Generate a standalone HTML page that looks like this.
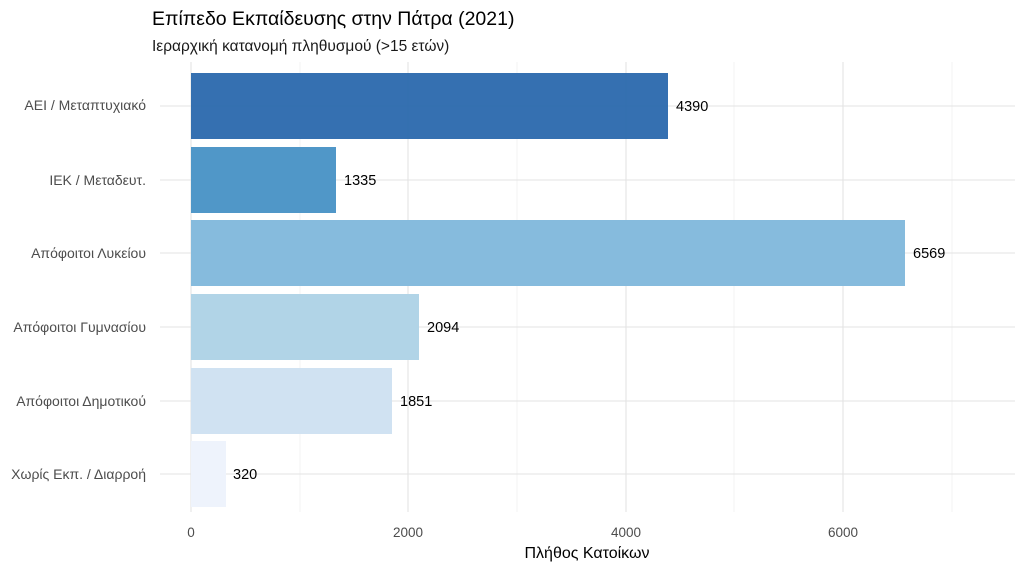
<!DOCTYPE html>
<html><head><meta charset="utf-8"><style>
body{margin:0;background:#fff;}
svg text{font-family:"Liberation Sans","DejaVu Sans",sans-serif;}
</style></head><body>
<svg width="1024" height="569" xmlns="http://www.w3.org/2000/svg">
<rect width="1024" height="569" fill="#fff"/>
<text x="152" y="25" font-size="19.5" fill="#000">Επίπεδο Εκπαίδευσης στην Πάτρα (2021)</text>
<text x="152" y="51" font-size="15.5" fill="#1a1a1a">Ιεραρχική κατανομή πληθυσμού (&gt;15 ετών)</text>
<g stroke="#ebebeb" stroke-width="0.6">
<line x1="300" y1="62" x2="300" y2="512"/><line x1="517" y1="62" x2="517" y2="512"/>
<line x1="734" y1="62" x2="734" y2="512"/><line x1="952" y1="62" x2="952" y2="512"/>
</g>
<g stroke="#e3e3e3" stroke-width="1.1">
<line x1="191" y1="62" x2="191" y2="512"/><line x1="408" y1="62" x2="408" y2="512"/>
<line x1="626" y1="62" x2="626" y2="512"/><line x1="843" y1="62" x2="843" y2="512"/>
<line x1="160" y1="106" x2="1015" y2="106"/><line x1="160" y1="180" x2="1015" y2="180"/>
<line x1="160" y1="253" x2="1015" y2="253"/><line x1="160" y1="327" x2="1015" y2="327"/>
<line x1="160" y1="401" x2="1015" y2="401"/><line x1="160" y1="474" x2="1015" y2="474"/>
</g>
<rect x="191" y="73" width="477" height="66" fill="#2a68ad" fill-opacity="0.95"/>
<rect x="191" y="147" width="145" height="66" fill="#5097c8"/>
<rect x="191" y="220" width="714" height="66" fill="#86bbdd"/>
<rect x="191" y="294" width="228" height="66" fill="#b1d4e7"/>
<rect x="191" y="368" width="201" height="66" fill="#d0e2f2"/>
<rect x="191" y="441" width="35" height="66" fill="#eef3fc"/>
<g font-size="14.5" fill="#000">
<text x="676" y="111">4390</text><text x="344" y="185">1335</text>
<text x="913" y="258">6569</text><text x="427" y="332">2094</text>
<text x="400" y="406">1851</text><text x="233" y="479">320</text>
</g>
<g font-size="14" fill="#4d4d4d" text-anchor="end">
<text x="146" y="110">ΑΕΙ / Μεταπτυχιακό</text><text x="146" y="185">ΙΕΚ / Μεταδευτ.</text>
<text x="146" y="258">Απόφοιτοι Λυκείου</text><text x="146" y="332">Απόφοιτοι Γυμνασίου</text>
<text x="146" y="406">Απόφοιτοι Δημοτικού</text><text x="146" y="479">Χωρίς Εκπ. / Διαρροή</text>
</g>
<g font-size="13.5" fill="#4d4d4d" text-anchor="middle">
<text x="191" y="537">0</text><text x="408" y="537">2000</text>
<text x="626" y="537">4000</text><text x="843" y="537">6000</text>
</g>
<text x="587" y="558" font-size="16" fill="#000" text-anchor="middle">Πλήθος Κατοίκων</text>
</svg>
</body></html>
